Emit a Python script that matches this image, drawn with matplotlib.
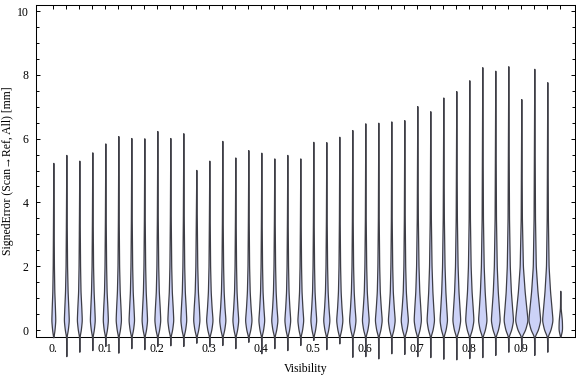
import numpy as np
import matplotlib
matplotlib.use('Agg')
import matplotlib.pyplot as plt

plt.rcParams['font.family'] = ['Liberation Serif', 'DejaVu Serif']

# visibility bins (one violin per bin)
visibility = [0.0, 0.025, 0.05, 0.075, 0.1, 0.125, 0.15, 0.175, 0.2, 0.225,
              0.25, 0.275, 0.3, 0.325, 0.35, 0.375, 0.4, 0.425, 0.45, 0.475,
              0.5, 0.525, 0.55, 0.575, 0.6, 0.625, 0.65, 0.675, 0.7, 0.725,
              0.75, 0.775, 0.8, 0.825, 0.85, 0.875, 0.9, 0.925, 0.95, 0.975]

# extremes of the signed error in each bin [mm]
err_min = [-0.23, -0.82, -0.68, -0.63, -0.50, -0.71, -0.57, -0.60, -0.50, -0.48,
           -0.50, -0.40, -0.51, -0.47, -0.57, -0.37, -0.73, -0.57, -0.63, -0.47,
           -0.31, -0.60, -0.42, -0.84, -0.82, -0.89, -0.73, -0.75, -0.82, -0.85,
           -0.90, -0.92, -0.88, -0.85, -0.78, -0.68, -0.63, -0.78, -0.68, -0.21]
err_max = [5.24, 5.49, 5.31, 5.57, 5.85, 6.08, 6.02, 6.01, 6.24, 6.02,
           6.17, 5.02, 5.31, 5.93, 5.41, 5.64, 5.56, 5.38, 5.49, 5.38,
           5.90, 5.89, 6.06, 6.27, 6.48, 6.50, 6.54, 6.58, 7.02, 6.86,
           7.29, 7.49, 7.83, 8.24, 8.13, 8.27, 7.24, 8.19, 7.77, 1.23]

# density (relative) of each bin at a few error levels
levels = [-0.2, 0.0, 0.3, 0.7, 1.2, 2.0, 3.5]
dens_m02 = [0.25] * 39 + [0.2]
dens_00 = [1.2, 1.5, 1.5, 1.5, 1.6, 1.6, 1.7, 1.7, 1.8, 1.8, 1.8, 1.9,
           2.0, 1.9, 1.8, 2.0, 1.8, 1.9, 1.8, 1.8, 1.8, 1.9, 1.9, 2.0, 2.1, 2.1, 2.1, 2.2,
           2.2, 2.3, 2.3, 2.4, 2.5, 2.6, 2.7, 2.9, 3.8, 3.6, 3.2, 1.8]
dens_03 = [2.0, 2.5, 2.5, 2.5, 2.6, 2.7, 2.8, 2.8, 3.0, 3.0, 3.0, 3.2,
           3.3, 3.2, 3.0, 3.3, 3.0, 3.2, 3.0, 3.0, 3.0, 3.2, 3.2, 3.3, 3.5, 3.5, 3.5, 3.7,
           3.7, 3.8, 3.8, 4.0, 4.2, 4.3, 4.5, 4.8, 6.3, 6.0, 5.3, 1.6]
dens_07 = [1.6, 2.0, 2.0, 2.0, 2.1, 2.2, 2.2, 2.2, 2.4, 2.4, 2.4, 2.6,
           2.3, 2.2, 2.1, 2.3, 2.1, 2.2, 2.1, 2.1, 2.1, 2.2, 2.2, 2.3, 2.5, 2.5, 2.5, 2.6,
           3.0, 3.0, 3.0, 3.2, 3.4, 3.4, 3.6, 3.8, 5.0, 4.8, 4.2, 0.3]
dens_12 = [1.0, 1.3, 1.2, 1.3, 1.3, 1.4, 1.4, 1.4, 1.5, 1.5, 1.5, 1.6,
           1.4, 1.35, 1.25, 1.4, 1.25, 1.35, 1.25, 1.25, 1.25, 1.35, 1.35, 1.4, 1.5, 1.5, 1.5, 1.55,
           2.0, 2.1, 2.1, 2.2, 2.3, 2.4, 2.5, 2.6, 3.4, 3.2, 2.8, 0.1]
dens_20 = [0.6, 0.75, 0.75, 0.75, 0.8, 0.8, 0.85, 0.85, 0.9, 0.9, 0.9, 0.95,
           0.8, 0.8, 0.75, 0.8, 0.75, 0.8, 0.75, 0.75, 0.75, 0.8, 0.8, 0.8, 0.9, 0.9, 0.9, 0.9,
           1.2, 1.25, 1.25, 1.3, 1.35, 1.4, 1.45, 1.5, 1.6, 1.5, 1.3, 0.0]
dens_35 = [0.3, 0.38, 0.38, 0.38, 0.4, 0.4, 0.42, 0.42, 0.45, 0.45, 0.45, 0.48,
           0.4, 0.38, 0.36, 0.4, 0.36, 0.38, 0.36, 0.36, 0.36, 0.38, 0.38, 0.4, 0.42, 0.42, 0.42, 0.44,
           0.55, 0.57, 0.57, 0.6, 0.63, 0.65, 0.68, 0.72, 0.6, 0.7, 0.6, 0.0]

dens_table = [dens_m02, dens_00, dens_03, dens_07, dens_12, dens_20, dens_35]
width_per_dens = 1 / 520.0   # x-units of half width per density unit

tick_labels = ['0.', '0.1', '0.2', '0.3', '0.4', '0.5', '0.6', '0.7', '0.8', '0.9']


def profile(lo, hi, dens):
    y = np.arange(lo, hi + 1e-9, 0.01)
    ky = [lo] + [v for v in levels if lo < v < hi] + [hi]
    kw = [0.0] + [d for v, d in zip(levels, dens) if lo < v < hi] + [0.0]
    w = np.interp(y, ky, kw)
    sig = 6.0
    kern = np.exp(-0.5 * (np.arange(-18, 19) / sig) ** 2)
    kern /= kern.sum()
    w = np.convolve(w, kern, mode='same')
    w[0] = w[-1] = 0
    return y, w


fig = plt.figure(figsize=(5.76, 3.77), dpi=100)
ax = fig.add_axes([36 / 576, 1 - 337 / 377, (575 - 36) / 576, (337 - 5) / 377])

for i, x in enumerate(visibility):
    dens = [row[i] for row in dens_table]
    y, w = profile(err_min[i], err_max[i], dens)
    hw = w * width_per_dens
    ax.fill_betweenx(y, x - hw, x + hw, facecolor='#ccd2f7',
                     edgecolor='#3e3e46', linewidth=0.9, clip_on=False, zorder=3)

ax.set_xlim(-0.0333, 1.0033)
ax.set_ylim(-0.219, 10.19)

ax.set_xticks(visibility)
ax.set_xticklabels([tick_labels[i // 4] if i % 4 == 0 else '' for i in range(len(visibility))])
ax.set_yticks([0, 2, 4, 6, 8, 10])
ax.set_yticks(np.arange(0, 10.01, 0.5), minor=True)

ax.tick_params(axis='both', which='both', direction='in', top=True, right=True,
               labelsize=8.5, width=0.7, colors='black')
ax.tick_params(axis='x', which='major', length=3, pad=4)
ax.tick_params(axis='y', which='major', length=3.1, pad=5.5)
ax.tick_params(axis='y', which='minor', length=1.9)
for s in ax.spines.values():
    s.set_linewidth(0.75)

ax.set_xlabel('Visibility', fontsize=8.5)
ax.set_ylabel('SignedError (Scan\u2192Ref, All) [mm]', fontsize=8.5)
ax.xaxis.set_label_coords(0.5, -0.079)
ax.yaxis.set_label_coords(-0.040, 0.5)

fig.savefig('out.png', dpi=100)
